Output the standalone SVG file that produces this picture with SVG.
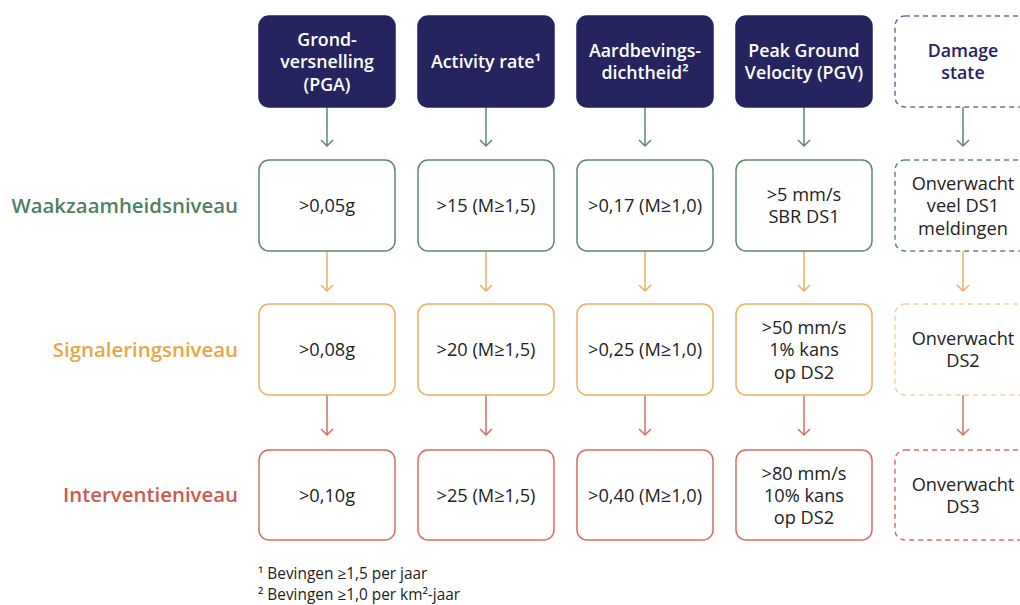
<svg xmlns="http://www.w3.org/2000/svg" width="1020" height="605" viewBox="0 0 1020 605">
<style>
.hdr{fill:#25245e;stroke:#25245e;stroke-width:1.5}
.hdrd{fill:#fff;stroke:#6f6c99;stroke-width:1.5;stroke-dasharray:5 4}
.bg{fill:#fff;stroke:#5b8a6b;stroke-width:1.5}
.bo{fill:#fff;stroke:#eab062;stroke-width:1.5}
.br{fill:#fff;stroke:#d66d63;stroke-width:1.5}
.dg{fill:#fff;stroke:#5b8a6b;stroke-width:1.5;stroke-dasharray:5 4}
.do{fill:#fff;stroke:#f3cf9c;stroke-width:1.5;stroke-dasharray:5 4}
.dr{fill:#fff;stroke:#d66d63;stroke-width:1.5;stroke-dasharray:5 4}
text{font-family:"Open Sans","Noto Sans","DejaVu Sans",sans-serif;text-anchor:middle;dominant-baseline:central}
.ht{fill:#fff;font-size:17.8px;font-weight:600}
.htd{fill:#25245e;font-size:17.8px;font-weight:600}
.t{fill:#222;font-size:18.2px}
.lbl{font-size:20.4px;font-weight:600;text-anchor:end}
.fn{fill:#222;font-size:15.4px;text-anchor:start}
.ag{stroke:#5b8a6b;stroke-width:1.5;fill:none}
.ao{stroke:#eab062;stroke-width:1.5;fill:none}
.ar{stroke:#d66d63;stroke-width:1.5;fill:none}
</style>

<g id="labels">
<text class="lbl" x="238" y="205" fill="#4f8061">Waakzaamheidsniveau</text>
<text class="lbl" x="238" y="349" fill="#e8a64a">Signaleringsniveau</text>
<text class="lbl" x="238" y="494" fill="#cc5a4f">Interventieniveau</text>
</g>

<g id="connectors">
<g class="ag">
<path d="M327 107V146M321 140l6 6 6-6"/>
<path d="M486 107V146M480 140l6 6 6-6"/>
<path d="M645 107V146M639 140l6 6 6-6"/>
<path d="M804 107V146M798 140l6 6 6-6"/>
<path d="M963 107V146M957 140l6 6 6-6"/>
</g>
<g class="ao">
<path d="M327 251V291M321 285l6 6 6-6"/>
<path d="M486 251V291M480 285l6 6 6-6"/>
<path d="M645 251V291M639 285l6 6 6-6"/>
<path d="M804 251V291M798 285l6 6 6-6"/>
<path d="M963 251V291M957 285l6 6 6-6"/>
</g>
<g class="ar">
<path d="M327 395V435M321 429l6 6 6-6"/>
<path d="M486 395V435M480 429l6 6 6-6"/>
<path d="M645 395V435M639 429l6 6 6-6"/>
<path d="M804 395V435M798 429l6 6 6-6"/>
<path d="M963 395V435M957 429l6 6 6-6"/>
</g>
</g>

<g id="h1"><rect class="hdr" x="259" y="16" width="136" height="91" rx="10"/>
<text class="ht" x="327" y="39">Grond-</text><text class="ht" x="327" y="61">versnelling</text><text class="ht" x="327" y="84">(PGA)</text></g>
<g id="h2"><rect class="hdr" x="418" y="16" width="136" height="91" rx="10"/>
<text class="ht" x="486" y="61">Activity rate¹</text></g>
<g id="h3"><rect class="hdr" x="577" y="16" width="136" height="91" rx="10"/>
<text class="ht" x="645" y="50">Aardbevings-</text><text class="ht" x="645" y="72">dichtheid²</text></g>
<g id="h4"><rect class="hdr" x="736" y="16" width="136" height="91" rx="10"/>
<text class="ht" x="804" y="50">Peak Ground</text><text class="ht" x="804" y="72">Velocity (PGV)</text></g>
<g id="h5"><rect class="hdrd" x="895" y="16" width="136" height="91" rx="10"/>
<text class="htd" x="963" y="50">Damage</text><text class="htd" x="963" y="72">state</text></g>

<g id="g1"><rect class="bg" x="259" y="160" width="136" height="91" rx="10"/><text class="t" x="327" y="205">&gt;0,05g</text></g>
<g id="g2"><rect class="bg" x="418" y="160" width="136" height="91" rx="10"/><text class="t" x="486" y="205">&gt;15 (M≥1,5)</text></g>
<g id="g3"><rect class="bg" x="577" y="160" width="136" height="91" rx="10"/><text class="t" x="645" y="205">&gt;0,17 (M≥1,0)</text></g>
<g id="g4"><rect class="bg" x="736" y="160" width="136" height="91" rx="10"/><text class="t" x="804" y="194">&gt;5 mm/s</text><text class="t" x="804" y="216">SBR DS1</text></g>
<g id="g5"><rect class="dg" x="895" y="160" width="136" height="91" rx="10"/><text class="t" x="963" y="183">Onverwacht</text><text class="t" x="963" y="205">veel DS1</text><text class="t" x="963" y="228">meldingen</text></g>

<g id="o1"><rect class="bo" x="259" y="304" width="136" height="91" rx="10"/><text class="t" x="327" y="349">&gt;0,08g</text></g>
<g id="o2"><rect class="bo" x="418" y="304" width="136" height="91" rx="10"/><text class="t" x="486" y="349">&gt;20 (M≥1,5)</text></g>
<g id="o3"><rect class="bo" x="577" y="304" width="136" height="91" rx="10"/><text class="t" x="645" y="349">&gt;0,25 (M≥1,0)</text></g>
<g id="o4"><rect class="bo" x="736" y="304" width="136" height="91" rx="10"/><text class="t" x="804" y="327">&gt;50 mm/s</text><text class="t" x="804" y="349">1% kans</text><text class="t" x="804" y="372">op DS2</text></g>
<g id="o5"><rect class="do" x="895" y="304" width="136" height="91" rx="10"/><text class="t" x="963" y="338">Onverwacht</text><text class="t" x="963" y="360">DS2</text></g>

<g id="r1"><rect class="br" x="259" y="450" width="136" height="90" rx="10"/><text class="t" x="327" y="495">&gt;0,10g</text></g>
<g id="r2"><rect class="br" x="418" y="450" width="136" height="90" rx="10"/><text class="t" x="486" y="495">&gt;25 (M≥1,5)</text></g>
<g id="r3"><rect class="br" x="577" y="450" width="136" height="90" rx="10"/><text class="t" x="645" y="495">&gt;0,40 (M≥1,0)</text></g>
<g id="r4"><rect class="br" x="736" y="450" width="136" height="90" rx="10"/><text class="t" x="804" y="473">&gt;80 mm/s</text><text class="t" x="804" y="495">10% kans</text><text class="t" x="804" y="517">op DS2</text></g>
<g id="r5"><rect class="dr" x="895" y="450" width="136" height="90" rx="10"/><text class="t" x="963" y="484">Onverwacht</text><text class="t" x="963" y="506">DS3</text></g>

<g id="footnotes">
<text class="fn" x="258" y="573">¹ Bevingen ≥1,5 per jaar</text>
<text class="fn" x="258" y="594">² Bevingen ≥1,0 per km²-jaar</text>
</g>
</svg>
